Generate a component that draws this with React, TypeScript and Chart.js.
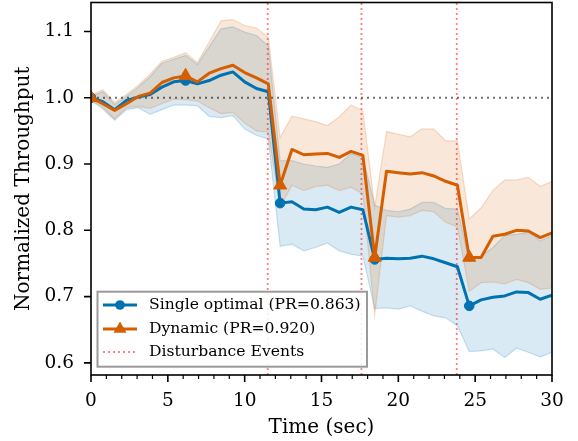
import React, { useEffect, useRef } from 'react';
import { Chart, registerables } from 'chart.js';

Chart.register(...registerables);

// ---- data ----
const times = [
  0, 0.769, 1.538, 2.308, 3.077, 3.846, 4.615, 5.385, 6.154, 6.923,
  7.692, 8.462, 9.231, 10.0, 10.769, 11.538, 12.308, 13.077, 13.846, 14.615,
  15.385, 16.154, 16.923, 17.692, 18.462, 19.231, 20.0, 20.769, 21.538, 22.308,
  23.077, 23.846, 24.615, 25.385, 26.154, 26.923, 27.692, 28.462, 29.231, 30.0,
];

const blueMean = [
  1.0, 0.994, 0.982, 0.996, 1.001, 1.005, 1.016, 1.024, 1.026, 1.021,
  1.026, 1.034, 1.039, 1.024, 1.014, 1.009, 0.841, 0.843, 0.832, 0.831,
  0.835, 0.827, 0.835, 0.831, 0.756, 0.758, 0.757, 0.758, 0.761, 0.757,
  0.751, 0.745, 0.686, 0.695, 0.699, 0.701, 0.707, 0.706, 0.696, 0.702,
];
const blueUpper = [
  1.002, 1.009, 0.99, 1.002, 1.016, 1.032, 1.052, 1.058, 1.064, 1.05,
  1.077, 1.104, 1.107, 1.099, 1.094, 1.078, 0.905, 0.905, 0.9, 0.897,
  0.895, 0.9, 0.916, 0.91, 0.838, 0.83, 0.828, 0.832, 0.842, 0.842,
  0.833, 0.832, 0.754, 0.761, 0.774, 0.792, 0.794, 0.797, 0.784, 0.792,
];
const blueLower = [
  0.996, 0.983, 0.966, 0.982, 0.985, 0.975, 0.982, 0.989, 0.989, 0.988,
  0.972, 0.97, 0.973, 0.953, 0.943, 0.938, 0.776, 0.779, 0.769, 0.774,
  0.781, 0.769, 0.764, 0.761, 0.682, 0.683, 0.681, 0.686, 0.678, 0.671,
  0.668, 0.656, 0.617, 0.618, 0.621, 0.608, 0.622, 0.616, 0.609, 0.616,
];

const orangeMean = [
  1.0, 0.991, 0.981, 0.991, 1.002, 1.007, 1.023, 1.03, 1.033, 1.024,
  1.037, 1.044, 1.049, 1.038, 1.03, 1.021, 0.868, 0.922, 0.914, 0.915,
  0.916, 0.91, 0.919, 0.913, 0.759, 0.889, 0.887, 0.885, 0.887, 0.882,
  0.874, 0.868, 0.759, 0.759, 0.791, 0.794, 0.8, 0.799, 0.789, 0.796,
];
const orangeUpper = [
  1.004, 1.012, 0.993, 1.005, 1.019, 1.036, 1.055, 1.061, 1.068, 1.053,
  1.084, 1.116, 1.118, 1.109, 1.105, 1.091, 0.94, 0.972, 0.968, 0.964,
  0.958, 0.971, 0.989, 0.98, 0.835, 0.949, 0.945, 0.941, 0.953, 0.953,
  0.935, 0.935, 0.817, 0.834, 0.86, 0.876, 0.876, 0.88, 0.866, 0.874,
];
const orangeLower = [
  0.996, 0.986, 0.968, 0.985, 0.987, 0.984, 0.991, 0.998, 0.997, 0.995,
  0.985, 0.976, 0.978, 0.962, 0.95, 0.948, 0.835, 0.868, 0.86, 0.866,
  0.868, 0.86, 0.865, 0.855, 0.672, 0.822, 0.82, 0.822, 0.83, 0.828,
  0.812, 0.805, 0.708, 0.721, 0.722, 0.719, 0.726, 0.721, 0.711, 0.713,
];

const eventTimes = [11.5, 17.6, 23.8];
const baselineValue = 1.0;

const xTicks = [0, 5, 10, 15, 20, 25, 30];
const xMinorStep = 1;
const yTicks = [0.6, 0.7, 0.8, 0.9, 1.0, 1.1];
const xRange = [0, 30];
const yRange = [0.5817, 1.1437];

const seriesLabels = ['Single optimal (PR=0.863)', 'Dynamic (PR=0.920)'];
const eventLabel = 'Disturbance Events';
const xTitle = 'Time (sec)';
const yTitle = 'Normalized Throughput';
const markEvery = 8;

// ---- styles ----
const BLUE = '#0072B2';
const ORANGE = '#D55E00';
const BLUE_FILL = 'rgba(0,114,178,0.15)';
const ORANGE_FILL = 'rgba(213,94,0,0.15)';
const BLUE_EDGE = 'rgba(0,114,178,0.2)';
const ORANGE_EDGE = 'rgba(213,94,0,0.2)';
const EVENT_COLOR = 'rgba(255,0,0,0.5)';
const BASE_COLOR = 'rgba(0,0,0,0.55)';
const FONT = '"DejaVu Serif", serif';

const pts = (ys: number[]) => times.map((t, i) => ({ x: t, y: ys[i] }));

const framePlugin = {
  id: 'frame',
  afterDraw(chart: any) {
    const { ctx, chartArea: a, scales } = chart;
    const xs = scales.x;
    const ys = scales.y;
    ctx.save();
    ctx.strokeStyle = '#000';
    ctx.lineWidth = 1.6;
    ctx.beginPath();
    xTicks.forEach((v) => {
      const px = xs.getPixelForValue(v);
      ctx.moveTo(px, a.bottom);
      ctx.lineTo(px, a.bottom + 7);
    });
    yTicks.forEach((v) => {
      const py = ys.getPixelForValue(v);
      ctx.moveTo(a.left, py);
      ctx.lineTo(a.left - 7, py);
    });
    ctx.stroke();
    ctx.lineWidth = 1.2;
    ctx.beginPath();
    for (let v = xRange[0]; v <= xRange[1]; v += xMinorStep) {
      if (xTicks.includes(v)) continue;
      const px = xs.getPixelForValue(v);
      ctx.moveTo(px, a.bottom);
      ctx.lineTo(px, a.bottom + 4);
    }
    ctx.stroke();
    ctx.lineWidth = 1.6;
    ctx.strokeRect(a.left, a.top, a.right - a.left, a.bottom - a.top);
    ctx.restore();
  },
};

const legendPlugin = {
  id: 'boxLegend',
  afterDraw(chart: any) {
    const { ctx, chartArea: a } = chart;
    const x0 = a.left + 6.5;
    const y0 = a.bottom - 83.3;
    const w = 269.5;
    const h = 75;
    ctx.save();
    ctx.fillStyle = 'rgba(255,255,255,0.85)';
    ctx.fillRect(x0, y0, w, h);
    ctx.strokeStyle = '#9a9a9a';
    ctx.lineWidth = 2;
    ctx.strokeRect(x0, y0, w, h);
    const rows = [y0 + 13.3, y0 + 37.3, y0 + 60.3];
    const hx0 = x0 + 5.5;
    const hx1 = x0 + 39.5;
    const hm = (hx0 + hx1) / 2;
    ctx.lineWidth = 3;
    ctx.strokeStyle = BLUE;
    ctx.beginPath();
    ctx.moveTo(hx0, rows[0]);
    ctx.lineTo(hx1, rows[0]);
    ctx.stroke();
    ctx.fillStyle = BLUE;
    ctx.beginPath();
    ctx.arc(hm, rows[0], 4.8, 0, Math.PI * 2);
    ctx.fill();
    ctx.strokeStyle = ORANGE;
    ctx.beginPath();
    ctx.moveTo(hx0, rows[1]);
    ctx.lineTo(hx1, rows[1]);
    ctx.stroke();
    ctx.fillStyle = ORANGE;
    const r = 7.5;
    ctx.beginPath();
    ctx.moveTo(hm, rows[1] - r);
    ctx.lineTo(hm + r * 0.866, rows[1] + r * 0.5);
    ctx.lineTo(hm - r * 0.866, rows[1] + r * 0.5);
    ctx.closePath();
    ctx.fill();
    ctx.strokeStyle = EVENT_COLOR;
    ctx.lineWidth = 1.8;
    ctx.setLineDash([2, 3]);
    ctx.beginPath();
    ctx.moveTo(hx0, rows[2]);
    ctx.lineTo(hx1, rows[2]);
    ctx.stroke();
    ctx.setLineDash([]);
    ctx.fillStyle = '#000';
    ctx.font = `15.6px ${FONT}`;
    ctx.textBaseline = 'middle';
    ctx.textAlign = 'left';
    const tx = x0 + 51.5;
    ctx.fillText(seriesLabels[0], tx, rows[0]);
    ctx.fillText(seriesLabels[1], tx, rows[1]);
    ctx.fillText(eventLabel, tx, rows[2]);
    ctx.restore();
  },
};

export default function App() {
  const ref = useRef<HTMLCanvasElement | null>(null);

  useEffect(() => {
    document.body.style.margin = '0';
    const canvas = ref.current;
    if (!canvas) return;

    const markerRadius = (r: number) => (c: any) => (c.dataIndex % markEvery === 0 ? r : 0);

    const eventSets = eventTimes.map((t, k) => ({
      label: k === 0 ? eventLabel : `${eventLabel} ${k + 1}`,
      data: [
        { x: t, y: yRange[0] },
        { x: t, y: yRange[1] },
      ],
      borderColor: EVENT_COLOR,
      borderWidth: 1.8,
      borderDash: [2, 3],
      pointRadius: 0,
      fill: false,
      order: 3,
    }));

    const chart = new Chart(canvas, {
      type: 'line',
      data: {
        datasets: [
          {
            label: seriesLabels[1],
            data: pts(orangeMean),
            borderColor: ORANGE,
            backgroundColor: ORANGE,
            borderWidth: 3,
            borderJoinStyle: 'round',
            pointStyle: 'triangle',
            pointRadius: markerRadius(7.5),
            pointBackgroundColor: ORANGE,
            pointBorderColor: ORANGE,
            pointBorderWidth: 1,
            fill: false,
            order: 0,
          },
          {
            label: seriesLabels[0],
            data: pts(blueMean),
            borderColor: BLUE,
            backgroundColor: BLUE,
            borderWidth: 3,
            borderJoinStyle: 'round',
            pointStyle: 'circle',
            pointRadius: markerRadius(4.8),
            pointBackgroundColor: BLUE,
            pointBorderColor: BLUE,
            pointBorderWidth: 1,
            fill: false,
            order: 1,
          },
          {
            label: 'baseline',
            data: [
              { x: xRange[0], y: baselineValue },
              { x: xRange[1], y: baselineValue },
            ],
            borderColor: BASE_COLOR,
            borderWidth: 2,
            borderDash: [2, 4],
            pointRadius: 0,
            fill: false,
            order: 2,
          },
          ...eventSets,
          {
            label: 'Dynamic upper',
            data: pts(orangeUpper),
            borderColor: ORANGE_EDGE,
            backgroundColor: ORANGE_FILL,
            borderWidth: 1.2,
            pointRadius: 0,
            fill: '+1',
            order: 6,
          },
          {
            label: 'Dynamic lower',
            data: pts(orangeLower),
            borderColor: ORANGE_EDGE,
            borderWidth: 1.2,
            pointRadius: 0,
            fill: false,
            order: 7,
          },
          {
            label: 'Single upper',
            data: pts(blueUpper),
            borderColor: BLUE_EDGE,
            backgroundColor: BLUE_FILL,
            borderWidth: 1.2,
            pointRadius: 0,
            fill: '+1',
            order: 8,
          },
          {
            label: 'Single lower',
            data: pts(blueLower),
            borderColor: BLUE_EDGE,
            borderWidth: 1.2,
            pointRadius: 0,
            fill: false,
            order: 9,
          },
        ],
      },
      options: {
        responsive: false,
        animation: false,
        devicePixelRatio: 1,
        layout: { autoPadding: false, padding: { top: 2.5, right: 26, bottom: 0, left: 0 } },
        plugins: {
          legend: { display: false },
          tooltip: { enabled: false },
        },
        scales: {
          x: {
            type: 'linear',
            min: xRange[0],
            max: xRange[1],
            afterBuildTicks: (s: any) => {
              s.ticks = xTicks.map((v) => ({ value: v }));
            },
            afterFit: (s: any) => {
              s.height = 66;
              s.paddingLeft = 0;
              s.paddingRight = 0;
              s.paddingTop = 0;
              s.paddingBottom = 0;
            },
            grid: { display: false, drawTicks: false },
            border: { display: false },
            ticks: {
              color: '#000',
              font: { family: FONT, size: 18.5 },
              padding: 15,
              maxRotation: 0,
              autoSkip: false,
              callback: (v: any) => String(v),
            },
            title: {
              display: true,
              text: xTitle,
              color: '#000',
              font: { family: FONT, size: 20 },
              padding: { top: 0, bottom: 1 },
            },
          },
          y: {
            type: 'linear',
            min: yRange[0],
            max: yRange[1],
            afterBuildTicks: (s: any) => {
              s.ticks = yTicks.map((v) => ({ value: v }));
            },
            afterFit: (s: any) => {
              s.width = 91;
              s.paddingTop = 0;
              s.paddingBottom = 0;
              s.paddingLeft = 0;
              s.paddingRight = 0;
            },
            grid: { display: false, drawTicks: false },
            border: { display: false },
            ticks: {
              color: '#000',
              font: { family: FONT, size: 18.5 },
              padding: 17,
              autoSkip: false,
              callback: (v: any) => Number(v).toFixed(1),
            },
            title: {
              display: true,
              text: yTitle,
              color: '#000',
              font: { family: FONT, size: 20 },
              padding: { top: 12, bottom: 0 },
            },
          },
        },
      },
      plugins: [framePlugin, legendPlugin],
    } as any);

    return () => chart.destroy();
  }, []);

  return (
    <div style={{ position: 'absolute', left: 0, top: 0, width: 578, height: 441 }}>
      <canvas ref={ref} width={578} height={441} style={{ display: 'block', width: 578, height: 441 }} />
    </div>
  );
}
